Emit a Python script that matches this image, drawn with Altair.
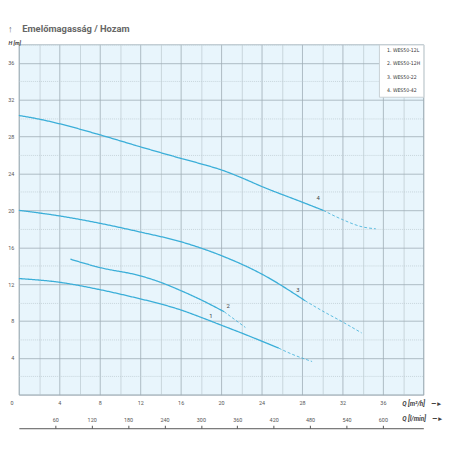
import altair as alt
import pandas as pd

FONT = "Roboto"
NARROW = "'Liberation Sans Narrow', 'DejaVu Sans Condensed', 'Roboto Condensed', Roboto"
LINE_COLOR = "#3aaed8"

curve_names = ["1. WES50-12L", "2. WES50-12H", "3. WES50-22", "4. WES50-42"]
curve_tags = ["1", "2", "3", "4"]

# curve 1
c1_solid_q = [0, 4, 8, 12, 14, 16, 18, 20, 22, 25.7]
c1_solid_h = [12.6, 12.2, 11.4, 10.4, 9.85, 9.2, 8.4, 7.55, 6.7, 5.05]
c1_dash_q = [25.7, 27, 29]
c1_dash_h = [5.05, 4.4, 3.6]
# curve 2
c2_solid_q = [5.1, 8, 12, 14, 16, 18, 20.3]
c2_solid_h = [14.7, 13.8, 12.9, 12.2, 11.3, 10.3, 9.0]
c2_dash_q = [20.3, 22.4]
c2_dash_h = [9.0, 7.3]
# curve 3
c3_solid_q = [0, 4, 8, 12, 16, 20, 24, 28.3]
c3_solid_h = [20.0, 19.4, 18.6, 17.65, 16.6, 15.1, 13.1, 10.2]
c3_dash_q = [28.3, 30, 32, 33.9]
c3_dash_h = [10.2, 9.1, 7.9, 6.7]
# curve 4
c4_solid_q = [0, 2, 4, 8, 12, 16, 18, 20, 22, 24, 28, 30.1]
c4_solid_h = [30.3, 29.9, 29.4, 28.2, 26.9, 25.65, 25.05, 24.4, 23.55, 22.6, 20.9, 20.0]
c4_dash_q = [30.1, 32, 34, 35.3]
c4_dash_h = [20.0, 19.0, 18.2, 18.0]

label_q = [19.0, 20.7, 27.6, 29.6]
label_h = [8.5, 9.6, 11.4, 21.3]

x_grid = list(range(0, 41, 2))
y_grid = list(range(0, 39, 2))
lpm_ticks = [60, 120, 180, 240, 300, 360, 420, 480, 540, 600]
q_max = 40
lpm_max = q_max * 1000 / 60

segments = [
    (curve_names[0], c1_solid_q, c1_solid_h, c1_dash_q, c1_dash_h),
    (curve_names[1], c2_solid_q, c2_solid_h, c2_dash_q, c2_dash_h),
    (curve_names[2], c3_solid_q, c3_solid_h, c3_dash_q, c3_dash_h),
    (curve_names[3], c4_solid_q, c4_solid_h, c4_dash_q, c4_dash_h),
]
rows = []
for name, sq, sh, dq, dh in segments:
    for q, h in zip(sq, sh):
        rows.append({"curve": name, "seg": "solid", "q": q, "h": h})
    for q, h in zip(dq, dh):
        rows.append({"curve": name, "seg": "dashed", "q": q, "h": h})
df = pd.DataFrame(rows)
df["key"] = df["curve"] + "|" + df["seg"]

lab_df = pd.DataFrame({"tag": curve_tags, "q": label_q, "h": label_h})
lpm_df = pd.DataFrame({"lpm": lpm_ticks})

xs = alt.Scale(domain=[0, q_max], nice=False, zero=False)
ys = alt.Scale(domain=[0, 38], nice=False)

MAJOR = "#9eadb5"
MINOR = "#bfcdd4"
SP = "\u2003"

x_axis = alt.Axis(
    values=x_grid,
    labelExpr="datum.value % 4 == 0 && datum.value <= 36 ? datum.label : ''",
    labelOverlap=False,
    grid=True,
    gridColor=alt.condition("datum.value % 4 == 0", alt.value(MAJOR), alt.value(MINOR)),
    gridWidth=0.8,
    domain=False,
    ticks=False,
    labelFont=FONT,
    labelFontSize=5.5,
    labelColor="#555",
    labelPadding=6,
    labelOffset=alt.condition("datum.value == 0", alt.value(-9), alt.value(0)),
    title="Q [m³/h]" + SP + "—►",
    titleX=388,
    titleY=9,
    titleAlign="left",
    titleBaseline="middle",
    titleFont=FONT,
    titleFontSize=6.5,
    titleFontStyle="italic",
    titleFontWeight="bold",
    titleColor="#444",
)

y_axis = alt.Axis(
    values=y_grid,
    labelExpr="datum.value % 4 == 0 && datum.value > 0 && datum.value <= 36 ? datum.label : ''",
    labelOverlap=False,
    labelBound=False,
    grid=True,
    gridColor=alt.condition("datum.value % 4 == 0", alt.value(MAJOR), alt.value(MINOR)),
    gridDash=alt.condition("datum.value % 4 == 0", alt.value([]), alt.value([1, 1])),
    gridWidth=0.8,
    domain=False,
    ticks=False,
    labelFont=FONT,
    labelFontSize=5.5,
    labelColor="#555",
    labelPadding=5,
    title="H [m]",
    titleAngle=0,
    titleX=-11,
    titleY=-2,
    titleAlign="left",
    titleBaseline="middle",
    titleFont=FONT,
    titleFontSize=5.5,
    titleFontStyle="italic",
    titleFontWeight="bold",
    titleColor="#444",
)

lines = alt.Chart(df).mark_line(interpolate="monotone").encode(
    x=alt.X("q:Q", scale=xs, axis=x_axis),
    y=alt.Y("h:Q", scale=ys, axis=y_axis),
    detail="key:N",
    color=alt.Color(
        "curve:N",
        scale=alt.Scale(domain=curve_names, range=[LINE_COLOR] * 4),
        legend=alt.Legend(
            title=None,
            orient="top-right",
            offset=0,
            fillColor="white",
            strokeColor="#c8d0d4",
            padding=3,
            rowPadding=7.5,
            symbolSize=0,
            symbolOpacity=0,
            symbolStrokeWidth=0,
            labelOffset=0,
            labelFont=NARROW,
            labelFontSize=5.2,
            labelColor="#333",
        ),
    ),
    strokeDash=alt.StrokeDash(
        "seg:N",
        scale=alt.Scale(domain=["solid", "dashed"], range=[[1, 0], [3, 2]]),
        legend=None,
    ),
    size=alt.Size(
        "seg:N",
        scale=alt.Scale(domain=["solid", "dashed"], range=[1.3, 0.8]),
        legend=None,
    ),
)

labels = alt.Chart(lab_df).mark_text(
    font=FONT, fontSize=6, color="#444"
).encode(
    x=alt.X("q:Q", scale=xs, axis=None),
    y=alt.Y("h:Q", scale=ys, axis=y_axis),
    text="tag:N",
)

lpm_axis = alt.Axis(
    orient="top",
    offset=-389,
    values=lpm_ticks,
    grid=False,
    domain=True,
    domainColor="#555",
    domainWidth=1,
    ticks=True,
    tickSize=3,
    tickColor="#555",
    labelFont=FONT,
    labelFontSize=5.5,
    labelColor="#555",
    labelPadding=3,
    title="Q [l/min]" + SP + "—►",
    titleX=388,
    titleY=-10,
    titleAlign="left",
    titleBaseline="middle",
    titleFont=FONT,
    titleFontSize=6.5,
    titleFontStyle="italic",
    titleFontWeight="bold",
    titleColor="#444",
)

lpm_layer = alt.Chart(lpm_df).mark_point(opacity=0).encode(
    x=alt.X("lpm:Q", scale=alt.Scale(domain=[0, lpm_max], nice=False, zero=False), axis=lpm_axis),
)

chart = (
    alt.layer(lines, labels, lpm_layer)
    .resolve_scale(x="independent")
    .properties(
        width=410,
        height=355,
        autosize=alt.AutoSizeParams(type="none"),
        padding={"left": 11, "top": 34, "right": 25, "bottom": 45},
        title=alt.Title(
            "↑" + SP + "Emelőmagasság / Hozam",
            anchor="start",
            frame="group",
            font=FONT,
            fontSize=9.5,
            fontWeight="bold",
            color="#666",
            offset=7,
            dx=-11,
        ),
    )
    .configure_view(fill="#e8f5fc", stroke=MAJOR, strokeWidth=0.8)
)

chart.save("out.html", embed_options={"renderer": "svg", "actions": False})
